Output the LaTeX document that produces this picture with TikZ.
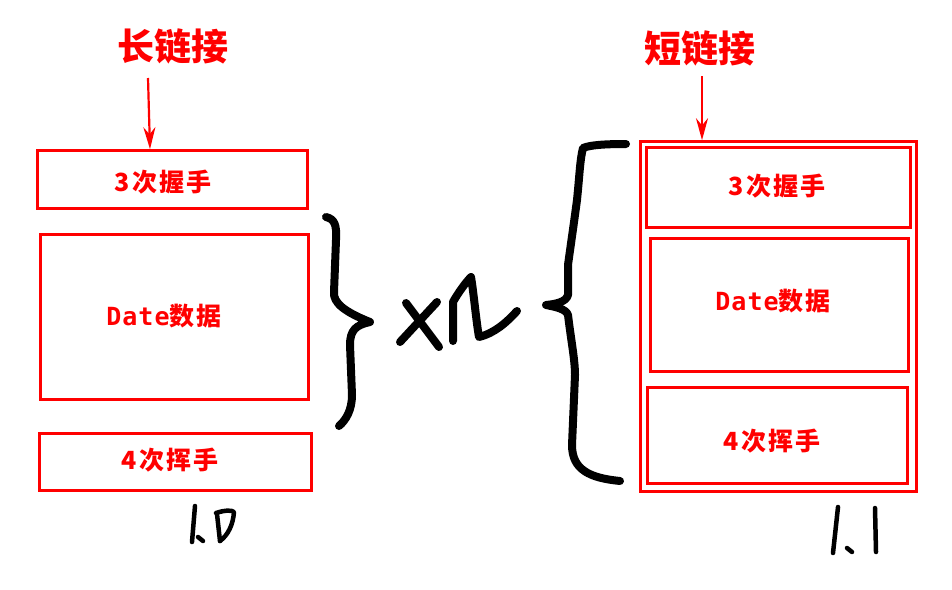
\documentclass[tikz,border=0pt]{standalone}
\usepackage{fontspec}
\newfontfamily\cjk{Noto Sans CJK SC}
\newfontfamily\cjkls[LetterSpace=8]{Noto Sans CJK SC}
\newfontfamily\mono[LetterSpace=4]{DejaVu Sans Mono}
\usetikzlibrary{arrows.meta}
\begin{document}
\begin{tikzpicture}[x=1pt,y=-1pt,
  box/.style={draw=red, line width=2.6pt, inner sep=0pt},
  lbl/.style={text=red, font=\fontsize{25}{27}\selectfont\cjkls\bfseries, inner sep=0pt},
  ttl/.style={text=red, font=\fontsize{37}{40}\selectfont\cjk\bfseries, inner sep=0pt},
  arr/.style={draw=red, line width=2.2pt, -{Stealth[length=22pt, width=12pt]}},
  hand/.style={draw=black, line width=8pt, line cap=round, line join=round},
  thin hand/.style={draw=black, line width=4.5pt, line cap=round, line join=round}]
\useasboundingbox (0,0) rectangle (952,589);
\fill[white] (0,0) rectangle (952,589);

% titles
\node[ttl] (t1) at (173,46) {长链接};
\node[ttl] (t2) at (700,48) {短链接};

% left stack
\node[box, minimum width=270pt, minimum height=58pt] (l1) at (172.5,179.5) {};
\node[box, minimum width=268pt, minimum height=165pt] (l2) at (174.5,317) {};
\node[box, minimum width=272pt, minimum height=57pt] (l3) at (175.5,462) {};
\node[lbl] (l1t) at (163,182) {3次握手};
\node[lbl] (l2t) at (164,316) {{\mono\bfseries Date}数据};
\node[lbl] (l3t) at (170,460) {4次挥手};

% right stack
\node[box, minimum width=276pt, minimum height=350pt] (r0) at (778.5,316.5) {};
\node[box, minimum width=264pt, minimum height=80pt] (r1) at (778.5,187.5) {};
\node[box, minimum width=258pt, minimum height=133pt] (r2) at (779.5,305) {};
\node[box, minimum width=260pt, minimum height=96pt] (r3) at (777.5,435.5) {};
\node[lbl] (r1t) at (777,186) {3次握手};
\node[lbl] (r2t) at (773,301) {{\mono\bfseries Date}数据};
\node[lbl] (r3t) at (772,441) {4次挥手};

% arrows
\coordinate (a1) at (148,78);
\coordinate (a2) at (702,76);
\draw[arr] (a1) -- (l1.north -| 150,0);
\draw[arr] (a2) -- (r0.north -| 702,0);

% hand-drawn right brace
\draw[hand] (326,217) .. controls (334,219) and (337,224) .. (336,240)
  -- (334,292) .. controls (333,303) and (345,312) .. (370,322)
  .. controls (356,325) and (350,330) .. (350,345)
  -- (352,395) .. controls (352,410) and (346,420) .. (339,426);

% x n
\draw[hand] (406,303) -- (439,347);
\draw[hand] (437,302) -- (400,342);
\draw[hand] (453,341) -- (453,302)
  .. controls (458,293) and (466,282) .. (471,277)
  .. controls (474,295) and (476,320) .. (479,337)
  .. controls (495,333) and (507,322) .. (517,311);

% hand-drawn left brace
\draw[hand] (626,144) .. controls (605,144) and (590,145) .. (583,148)
  .. controls (580,160) and (580,170) .. (577,200)
  .. controls (573,230) and (570,250) .. (568,265)
  -- (568,295) .. controls (566,302) and (556,304) .. (546,305)
  .. controls (556,307) and (566,309) .. (568,315)
  .. controls (571,340) and (575,360) .. (575,375)
  -- (572,445) .. controls (572,470) and (590,478) .. (620,481);

% version labels
\draw[thin hand] (195,506) -- (192,542);
\draw[thin hand] (198,537) -- (203,541);
\draw[thin hand] (217,514) -- (220,541);
\draw[thin hand] (216,513) .. controls (225,510) and (232,510) .. (234,512)
  .. controls (233,525) and (228,535) .. (220,541);
\draw[thin hand] (838,507) -- (833,553);
\draw[thin hand] (847,548) -- (852,552);
\draw[thin hand] (875,508) -- (876,552);
\end{tikzpicture}
\end{document}
